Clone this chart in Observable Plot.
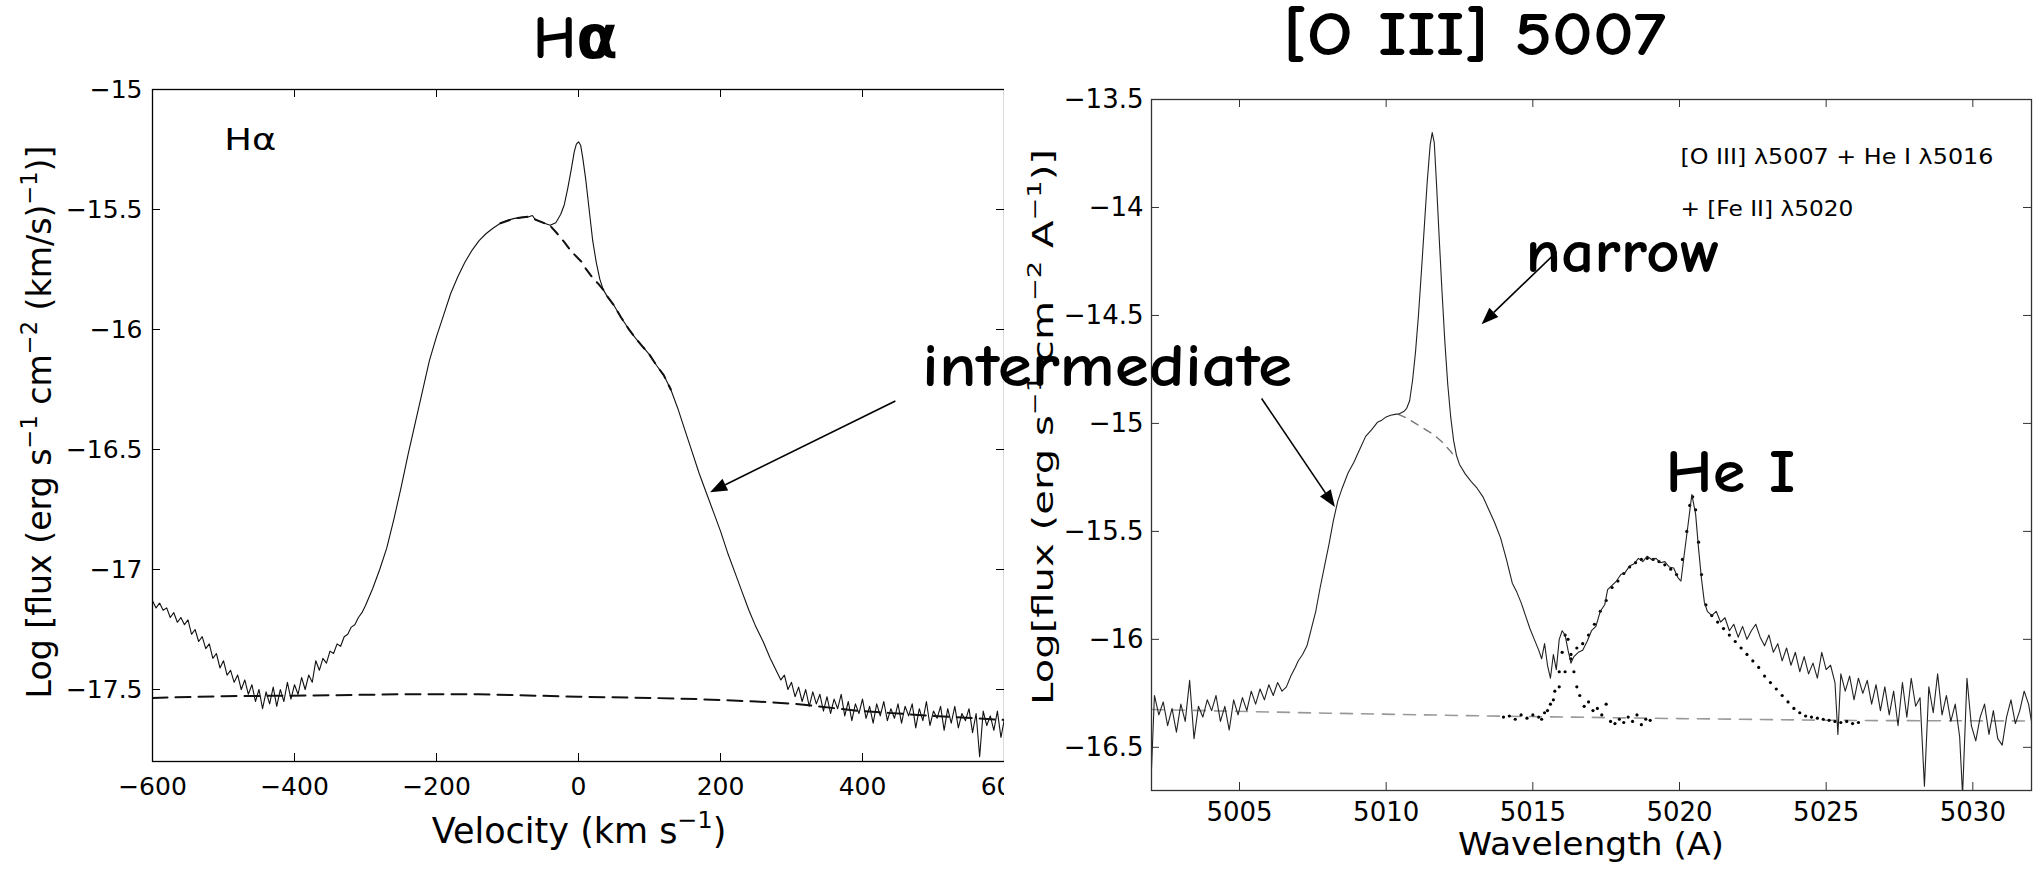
<!DOCTYPE html>
<html><head><meta charset="utf-8">
<script src="https://cdn.jsdelivr.net/npm/d3@7"></script>
<script src="https://cdn.jsdelivr.net/npm/@observablehq/plot@0.6"></script>
<style>
body{margin:0;background:#fff;}
#wrap{position:relative;width:2038px;height:872px;overflow:hidden;background:#fff;}
#wrap > svg{position:absolute;top:0;}
</style></head><body><div id="wrap"></div>
<script>
// ---------- Left panel: H-alpha (velocity, log flux) ----------
const hTicksX = [-600, -400, -200, 0, 200, 400, 600];
const hTicksY = [-17.5, -17, -16.5, -16, -15.5, -15];
const hSpectrum = [
[-600,-17.13],[-595,-17.16],[-590,-17.14],[-585,-17.17],[-580,-17.16],[-575,-17.20],[-570,-17.18],[-565,-17.22],[-560,-17.20],[-555,-17.23],
[-550,-17.21],[-545,-17.27],[-540,-17.25],[-535,-17.30],[-530,-17.28],[-525,-17.33],[-520,-17.31],[-515,-17.37],[-510,-17.35],[-505,-17.41],
[-500,-17.38],[-495,-17.44],[-490,-17.42],[-485,-17.47],[-480,-17.44],[-475,-17.50],[-470,-17.46],[-465,-17.52],[-460,-17.48],[-455,-17.55],
[-450,-17.50],[-445,-17.58],[-440,-17.51],[-435,-17.56],[-430,-17.49],[-425,-17.57],[-420,-17.50],[-415,-17.55],[-410,-17.47],[-405,-17.54],
[-400,-17.48],[-395,-17.52],[-390,-17.45],[-385,-17.50],[-380,-17.44],[-375,-17.47],[-370,-17.38],[-365,-17.42],[-360,-17.37],[-355,-17.39],
[-350,-17.34],[-345,-17.35],[-340,-17.31],[-335,-17.32],[-330,-17.28],[-325,-17.27],[-320,-17.24],[-315,-17.23],[-310,-17.20],[-305,-17.18],
[-300,-17.15],[-290,-17.08],[-280,-17.00],[-270,-16.91],[-260,-16.79],[-250,-16.66],[-240,-16.52],[-230,-16.39],[-220,-16.26],[-210,-16.13],
[-200,-16.03],[-190,-15.94],[-180,-15.85],[-170,-15.78],[-160,-15.72],[-150,-15.67],[-140,-15.63],[-130,-15.60],[-120,-15.577],[-110,-15.557],
[-100,-15.545],[-90,-15.537],[-80,-15.533],[-70,-15.530],[-65,-15.525],[-60,-15.545],[-50,-15.555],[-40,-15.566],[-32,-15.555],[-25,-15.52],
[-20,-15.48],[-15,-15.41],[-10,-15.33],[-6,-15.26],[-3,-15.228],[0,-15.218],[3,-15.232],[6,-15.285],[10,-15.37],[15,-15.50],
[20,-15.63],[25,-15.72],[30,-15.79],[35,-15.835],[40,-15.86],[50,-15.90],[60,-15.95],[70,-15.995],[80,-16.035],[90,-16.07],
[100,-16.105],[110,-16.15],[120,-16.19],[130,-16.25],[140,-16.33],[150,-16.42],[160,-16.51],[170,-16.60],[180,-16.68],[190,-16.76],
[200,-16.84],[210,-16.93],[220,-17.01],[230,-17.09],[240,-17.17],[250,-17.24],[260,-17.30],[270,-17.37],
[280,-17.43],[285,-17.46],[290,-17.44],[295,-17.50],[300,-17.47],[305,-17.53],[310,-17.49],[315,-17.55],[320,-17.50],[325,-17.57],
[330,-17.51],[335,-17.56],[340,-17.52],[345,-17.59],[350,-17.53],[355,-17.60],[360,-17.54],[365,-17.58],[370,-17.52],[375,-17.61],
[380,-17.55],[385,-17.63],[390,-17.56],[395,-17.60],[400,-17.54],[405,-17.62],[410,-17.57],[415,-17.64],[420,-17.56],[425,-17.61],
[430,-17.55],[435,-17.63],[440,-17.58],[445,-17.62],[450,-17.56],[455,-17.64],[460,-17.57],[465,-17.61],[470,-17.56],[475,-17.66],
[480,-17.58],[485,-17.63],[490,-17.55],[495,-17.65],[500,-17.59],[505,-17.62],[510,-17.57],[515,-17.67],[520,-17.58],[525,-17.64],
[530,-17.57],[535,-17.66],[540,-17.60],[545,-17.63],[550,-17.58],[555,-17.68],[560,-17.60],[565,-17.78],[570,-17.59],[575,-17.65],
[580,-17.61],[585,-17.67],[590,-17.59],[595,-17.70],[600,-17.62]
];
const hBroad = [
[-110,-15.557],[-90,-15.537],[-70,-15.530],[-50,-15.555],[-40,-15.567],[-30,-15.60],[-20,-15.636],[-10,-15.675],[0,-15.705],[5,-15.72],
[10,-15.745],[20,-15.785],[28,-15.81],[35,-15.835],[40,-15.86],[50,-15.90],[60,-15.95],[70,-15.995],[80,-16.035],[90,-16.07],
[100,-16.105],[110,-16.15],[120,-16.19],[130,-16.25]
];
const hContinuum = [
[-600,-17.535],[-500,-17.528],[-373,-17.525],[-250,-17.52],[-141,-17.52],[0,-17.53],[100,-17.535],[167,-17.54],[250,-17.55],
[306,-17.56],[398,-17.59],[500,-17.61],[600,-17.627]
];
const hLabels = [{v: -499, f: -15.254, text: "Hα"}];
const hArrows = [{x1: 447, y1: -16.30, x2: 186, y2: -16.68}];

// ---------- Right panel: [O III] 5007 (wavelength, log flux) ----------
const oTicksX = [5005, 5010, 5015, 5020, 5025, 5030];
const oTicksY = [-16.5, -16, -15.5, -15, -14.5, -14, -13.5];
const oSpectrum = [
[5002.0,-16.60],[5002.1,-16.26],[5002.25,-16.35],[5002.4,-16.29],[5002.55,-16.40],[5002.7,-16.32],[5002.85,-16.43],[5003.0,-16.30],
[5003.15,-16.38],[5003.3,-16.19],[5003.45,-16.46],[5003.6,-16.31],[5003.75,-16.36],[5003.9,-16.28],[5004.05,-16.33],[5004.2,-16.26],
[5004.35,-16.38],[5004.5,-16.31],[5004.65,-16.42],[5004.8,-16.28],[5004.95,-16.35],[5005.1,-16.27],[5005.25,-16.33],[5005.4,-16.24],
[5005.55,-16.30],[5005.7,-16.23],[5005.85,-16.28],[5006.0,-16.21],[5006.15,-16.26],[5006.3,-16.20],[5006.45,-16.24],[5006.6,-16.22],
[5006.75,-16.17],[5006.9,-16.13],[5007.0,-16.10],[5007.15,-16.07],[5007.3,-16.03],[5007.45,-15.95],[5007.6,-15.87],[5007.75,-15.76],
[5007.9,-15.66],[5008.05,-15.56],[5008.2,-15.45],[5008.35,-15.36],[5008.5,-15.30],[5008.7,-15.23],[5008.9,-15.18],[5009.1,-15.12],
[5009.3,-15.06],[5009.5,-15.03],[5009.7,-14.995],[5009.85,-14.985],[5010.0,-14.97],[5010.15,-14.962],[5010.3,-14.958],[5010.45,-14.955],
[5010.6,-14.945],[5010.7,-14.93],[5010.8,-14.895],[5010.9,-14.80],[5011.0,-14.67],[5011.1,-14.50],[5011.2,-14.30],[5011.3,-14.09],
[5011.4,-13.88],[5011.5,-13.71],[5011.57,-13.653],[5011.64,-13.70],[5011.72,-13.90],[5011.8,-14.12],[5011.9,-14.38],[5012.0,-14.62],
[5012.1,-14.82],[5012.2,-14.97],[5012.3,-15.08],[5012.4,-15.15],[5012.5,-15.19],[5012.7,-15.235],[5012.9,-15.27],[5013.1,-15.30],
[5013.3,-15.34],[5013.5,-15.40],[5013.7,-15.46],[5013.9,-15.53],[5014.1,-15.63],[5014.3,-15.74],[5014.45,-15.78],[5014.6,-15.83],
[5014.75,-15.89],[5014.9,-15.95],[5015.05,-16.00],[5015.2,-16.05],[5015.3,-16.09],[5015.4,-16.02],[5015.5,-16.12],[5015.6,-16.18],
[5015.7,-16.07],[5015.8,-16.14],[5015.9,-16.00],[5016.0,-15.96],[5016.1,-15.98],[5016.2,-16.05],[5016.3,-16.11],[5016.4,-16.08],
[5016.55,-16.06],[5016.7,-16.05],[5016.85,-16.01],[5017.0,-15.96],[5017.15,-15.94],[5017.3,-15.87],[5017.45,-15.84],[5017.55,-15.77],
[5017.7,-15.75],[5017.85,-15.73],[5018.0,-15.70],[5018.15,-15.69],[5018.3,-15.66],[5018.45,-15.65],[5018.6,-15.625],[5018.75,-15.64],
[5018.9,-15.615],[5019.05,-15.63],[5019.2,-15.625],[5019.35,-15.645],[5019.5,-15.64],[5019.65,-15.665],[5019.8,-15.67],[5019.95,-15.715],
[5020.05,-15.73],[5020.15,-15.62],[5020.3,-15.46],[5020.42,-15.33],[5020.55,-15.42],[5020.65,-15.58],[5020.75,-15.72],[5020.85,-15.83],
[5020.95,-15.87],[5021.1,-15.89],[5021.25,-15.87],[5021.4,-15.92],[5021.55,-15.90],[5021.7,-15.96],[5021.85,-15.93],[5022.0,-15.99],
[5022.15,-15.94],[5022.3,-16.00],[5022.45,-15.96],[5022.6,-15.93],[5022.75,-15.99],[5022.9,-16.03],[5023.05,-15.98],[5023.2,-16.06],
[5023.35,-16.02],[5023.5,-16.10],[5023.65,-16.04],[5023.8,-16.12],[5023.95,-16.06],[5024.1,-16.15],[5024.25,-16.08],[5024.4,-16.16],
[5024.55,-16.11],[5024.7,-16.18],[5024.85,-16.06],[5025.0,-16.14],[5025.15,-16.12],[5025.3,-16.20],[5025.4,-16.44],[5025.5,-16.16],
[5025.65,-16.24],[5025.8,-16.17],[5025.95,-16.28],[5026.1,-16.18],[5026.25,-16.25],[5026.4,-16.19],[5026.55,-16.30],[5026.7,-16.21],
[5026.85,-16.33],[5027.0,-16.22],[5027.15,-16.35],[5027.3,-16.24],[5027.45,-16.40],[5027.6,-16.20],[5027.75,-16.36],[5027.9,-16.18],
[5028.05,-16.31],[5028.2,-16.27],[5028.35,-16.68],[5028.5,-16.22],[5028.65,-16.34],[5028.8,-16.16],[5028.95,-16.35],[5029.1,-16.26],
[5029.25,-16.38],[5029.4,-16.30],[5029.55,-16.45],[5029.65,-16.72],[5029.8,-16.18],[5029.95,-16.40],[5030.1,-16.47],[5030.25,-16.36],
[5030.4,-16.30],[5030.55,-16.44],[5030.7,-16.33],[5030.85,-16.46],[5031.0,-16.49],[5031.15,-16.36],[5031.3,-16.28],[5031.45,-16.39],
[5031.6,-16.33],[5031.75,-16.24],[5031.9,-16.30],[5032.0,-16.38]
];
const oBroad = [
[5010.4,-14.957],[5010.7,-14.975],[5011.0,-15.0],[5011.3,-15.025],[5011.6,-15.05],[5011.9,-15.085],[5012.2,-15.13],[5012.4,-15.165]
];
const oContinuum = [
[5002,-16.325],[5008,-16.342],[5014,-16.356],[5020,-16.367],[5026,-16.376],[5032,-16.378]
];
const heIDots = [
[5014.0,-16.36],[5014.2,-16.355],[5014.4,-16.37],[5014.6,-16.35],[5014.8,-16.365],[5015.0,-16.35],[5015.2,-16.36],[5015.4,-16.34],
[5015.6,-16.30],[5015.75,-16.24],[5015.9,-16.15],[5016.0,-16.06],[5016.1,-15.98],[5016.2,-16.00],[5016.3,-16.07],[5016.4,-16.15],
[5016.5,-16.22],[5016.6,-16.26],[5016.75,-16.31],[5016.9,-16.29],[5017.05,-16.33],[5017.2,-16.32],[5017.35,-16.35],[5017.5,-16.30],
[5017.65,-16.38],[5017.8,-16.39],[5017.95,-16.37],[5018.1,-16.385],[5018.25,-16.36],[5018.4,-16.38],[5018.55,-16.35],[5018.7,-16.395],
[5018.85,-16.37],[5019.0,-16.375]
];
const feIIDots = [
[5015.3,-16.37],[5015.5,-16.33],[5015.7,-16.28],[5015.9,-16.22],[5016.1,-16.15],[5016.3,-16.09],[5016.5,-16.04],[5016.7,-16.02],
[5016.9,-15.98],[5017.1,-15.93],[5017.3,-15.87],[5017.5,-15.82],[5017.7,-15.76],[5017.9,-15.73],[5018.1,-15.695],[5018.3,-15.665],
[5018.5,-15.645],[5018.7,-15.63],[5018.9,-15.625],[5019.1,-15.63],[5019.3,-15.64],[5019.5,-15.655],[5019.7,-15.675],[5019.9,-15.70],
[5020.1,-15.63],[5020.25,-15.50],[5020.35,-15.38],[5020.45,-15.34],[5020.55,-15.40],[5020.65,-15.55],[5020.75,-15.70],[5020.9,-15.84],
[5021.1,-15.89],[5021.3,-15.92],[5021.5,-15.95],[5021.7,-15.98],[5021.9,-16.01],[5022.1,-16.04],[5022.3,-16.07],[5022.5,-16.10],
[5022.7,-16.13],[5022.9,-16.17],[5023.1,-16.20],[5023.3,-16.23],[5023.5,-16.26],[5023.7,-16.29],[5023.9,-16.32],[5024.1,-16.34],
[5024.3,-16.355],[5024.5,-16.36],[5024.7,-16.365],[5024.9,-16.37],[5025.1,-16.375],[5025.3,-16.38],[5025.5,-16.385],[5025.7,-16.38],
[5025.9,-16.39],[5026.1,-16.385]
];
const oLegend = [
  {w: 5020.03, f: -13.799, text: "[O III] λ5007 + He I λ5016", len: 313},
  {w: 5020.03, f: -14.038, text: "+ [Fe II] λ5020", len: 173}
];
const oNotes = [
  {w: 4994.18, f: -14.8255, text: "intermediate", len: 370},
  {w: 5014.75, f: -14.301, text: "narrow", len: 195},
  {w: 5019.52, f: -15.319, text: "He I", len: 130}
];
const oArrows = [
  {x1: 5005.77, y1: -14.887, x2: 5008.27, y2: -15.389},
  {x1: 5015.83, y1: -14.208, x2: 5013.27, y2: -14.543}
];

// ---------- helpers ----------
const sans = "'DejaVu Sans', 'Liberation Sans', sans-serif";
const comic = "'Comic Sans MS', 'Comic Neue', 'DejaVu Sans', cursive";
const NS = "http://www.w3.org/2000/svg";

function fitText(svg, str, len) {
  svg.querySelectorAll("text").forEach(t => {
    if (t.textContent === str) {
      t.setAttribute("textLength", len);
      t.setAttribute("lengthAdjust", "spacingAndGlyphs");
    }
  });
}
function arrowMark(data) {
  return (index, scales) => {
    const g = document.createElementNS(NS, "g");
    for (const a of data) {
      const x1 = scales.x(a.x1), y1 = scales.y(a.y1), x2 = scales.x(a.x2), y2 = scales.y(a.y2);
      const ang = Math.atan2(y2 - y1, x2 - x1), L = 17, w = 6.5;
      const bx = x2 - L * Math.cos(ang), by = y2 - L * Math.sin(ang);
      const ln = document.createElementNS(NS, "line");
      ln.setAttribute("x1", x1); ln.setAttribute("y1", y1);
      ln.setAttribute("x2", bx); ln.setAttribute("y2", by);
      ln.setAttribute("stroke", "black"); ln.setAttribute("stroke-width", 1.6);
      g.appendChild(ln);
      const p = document.createElementNS(NS, "polygon");
      const px = -Math.sin(ang) * w, py = Math.cos(ang) * w;
      p.setAttribute("points", `${x2},${y2} ${bx + px},${by + py} ${bx - px},${by - py}`);
      p.setAttribute("fill", "black");
      g.appendChild(p);
    }
    return g;
  };
}

// ---------- left plot ----------
const LW = 1040, LFW = 852, LFH = 672;
const left = Plot.plot({
  width: LW, height: 872, marginLeft: 152, marginRight: LW - 152 - LFW, marginTop: 89, marginBottom: 111,
  x: {domain: [-600, 600]},
  y: {domain: [-17.8, -15]},
  style: {fontFamily: sans, fontSize: "25px", color: "black", background: "white", overflow: "visible"},
  marks: [
    Plot.ruleX(hTicksX, {x: d => d, insetTop: LFH - 8, stroke: "black"}),
    Plot.ruleX(hTicksX, {x: d => d, insetBottom: LFH - 8, stroke: "black"}),
    Plot.ruleY(hTicksY, {y: d => d, insetRight: LFW - 8, stroke: "black"}),
    Plot.ruleY(hTicksY, {y: d => d, insetLeft: LFW - 8, stroke: "black"}),
    Plot.line(hContinuum, {x: d => d[0], y: d => d[1], stroke: "#111", strokeWidth: 2, strokeDasharray: "15,8", clip: true}),
    Plot.line(hBroad, {x: d => d[0], y: d => d[1], stroke: "#111", strokeWidth: 2, strokeDasharray: "10,8", clip: true}),
    Plot.line(hSpectrum, {x: d => d[0], y: d => d[1], stroke: "#111", strokeWidth: 1.1, clip: true}),
    Plot.axisX({ticks: hTicksX, tickSize: 0, tickPadding: 16, tickFormat: d3.format("d"), label: null}),
    Plot.axisY({ticks: hTicksY, tickSize: 0, tickPadding: 10, tickFormat: d3.format("~f"), label: null}),
    Plot.frame({stroke: "black", strokeWidth: 1.3}),
    Plot.text(hLabels, {x: "v", y: "f", text: "text", textAnchor: "start", lineAnchor: "bottom", fontFamily: sans, fontSize: 30}),
    arrowMark(hArrows)
  ]
});
fitText(left, "Hα", 52);
left.style.left = "0px";

// ---------- right plot ----------
const RX = 1004, RW = 2038 - RX, RFW = 880, RFH = 691;
const right = Plot.plot({
  width: RW, height: 872, marginLeft: 1151 - RX, marginRight: RW - (1151 - RX) - RFW, marginTop: 99, marginBottom: 82,
  x: {domain: [5002, 5032]},
  y: {domain: [-16.7, -13.5]},
  style: {fontFamily: sans, fontSize: "26px", color: "black", background: "white", overflow: "visible"},
  marks: [
    Plot.ruleX(oTicksX, {x: d => d, insetTop: RFH - 8, stroke: "#333"}),
    Plot.ruleX(oTicksX, {x: d => d, insetBottom: RFH - 8, stroke: "#333"}),
    Plot.ruleY(oTicksY, {y: d => d, insetRight: RFW - 8, stroke: "#333"}),
    Plot.ruleY(oTicksY, {y: d => d, insetLeft: RFW - 8, stroke: "#333"}),
    Plot.line(oContinuum, {x: d => d[0], y: d => d[1], stroke: "#999", strokeWidth: 1.6, strokeDasharray: "12,9", clip: true}),
    Plot.line(oBroad, {x: d => d[0], y: d => d[1], stroke: "#777", strokeWidth: 1.4, strokeDasharray: "8,7", clip: true}),
    Plot.dot(heIDots, {x: d => d[0], y: d => d[1], r: 1.6, fill: "black", stroke: "none", clip: true}),
    Plot.dot(feIIDots, {x: d => d[0], y: d => d[1], r: 1.6, fill: "black", stroke: "none", clip: true}),
    Plot.line(oSpectrum, {x: d => d[0], y: d => d[1], stroke: "#222", strokeWidth: 1.1, clip: true}),
    Plot.axisX({ticks: oTicksX, tickSize: 0, tickPadding: 12, tickFormat: d3.format("d"), label: null}),
    Plot.axisY({ticks: oTicksY, tickSize: 0, tickPadding: 8, tickFormat: d3.format("~f"), label: null}),
    Plot.frame({stroke: "#333", strokeWidth: 1.3}),
    Plot.text(oLegend, {x: "w", y: "f", text: "text", textAnchor: "start", lineAnchor: "bottom", fontFamily: sans, fontSize: 22}),
    Plot.text(oNotes, {x: "w", y: "f", text: "text", textAnchor: "start", lineAnchor: "bottom", fontFamily: comic, fontSize: 60, fontWeight: "bold"}),
    arrowMark(oArrows)
  ]
});
for (const d of oLegend) fitText(right, d.text, d.len);
for (const d of oNotes) fitText(right, d.text, d.len);
right.style.left = RX + "px";

// ---------- titles and axis labels ----------
const ov = d3.create("svg").attr("width", 2038).attr("height", 872)
  .style("position", "absolute").style("left", "0px").style("top", "0px").style("pointer-events", "none");

function label(parent, parts, attrs, size) {
  const t = parent.append("text");
  for (const [k, v] of Object.entries(attrs)) t.attr(k, v);
  t.attr("font-size", size);
  let raised = false;
  for (const [s, sup] of parts) {
    if (sup) {
      t.append("tspan").attr("dy", -size * 0.42).attr("font-size", size * 0.68).text(s);
    } else {
      const sp = t.append("tspan").text(s);
      if (raised) sp.attr("dy", size * 0.42);
    }
    raised = !!sup;
  }
  return t;
}

ov.append("text").attr("x", 575.5).attr("y", 58).attr("text-anchor", "middle")
  .attr("font-family", comic).attr("font-size", 60).attr("font-weight", "bold")
  .attr("textLength", 85).attr("lengthAdjust", "spacingAndGlyphs").text("Hα");
ov.append("text").attr("x", 1474.5).attr("y", 55).attr("text-anchor", "middle")
  .attr("font-family", comic).attr("font-size", 62).attr("font-weight", "bold")
  .attr("textLength", 383).attr("lengthAdjust", "spacingAndGlyphs").text("[O III] 5007");

label(ov, [["Log [flux (erg s"], ["−1", true], [" cm"], ["−2", true], [" (km/s)"], ["−1", true], [")]"]],
  {transform: "translate(51,422) rotate(-90)", "text-anchor": "middle", "font-family": sans,
   textLength: 553, lengthAdjust: "spacingAndGlyphs"}, 33);
label(ov, [["Log[flux (erg s"], ["−1", true], [" cm"], ["−2", true], [" A"], ["−1", true], [")]"]],
  {transform: "translate(1053,427) rotate(-90)", "text-anchor": "middle", "font-family": sans,
   textLength: 556, lengthAdjust: "spacingAndGlyphs"}, 28);
label(ov, [["Velocity (km s"], ["−1", true], [")"]],
  {x: 579, y: 843, "text-anchor": "middle", "font-family": sans}, 35);
ov.append("text").attr("x", 1591).attr("y", 855).attr("text-anchor", "middle")
  .attr("font-family", sans).attr("font-size", 32)
  .attr("textLength", 266).attr("lengthAdjust", "spacingAndGlyphs").text("Wavelength (A)");

const wrap = document.getElementById("wrap");
wrap.appendChild(left);
wrap.appendChild(right);
wrap.appendChild(ov.node());
</script></body></html>
